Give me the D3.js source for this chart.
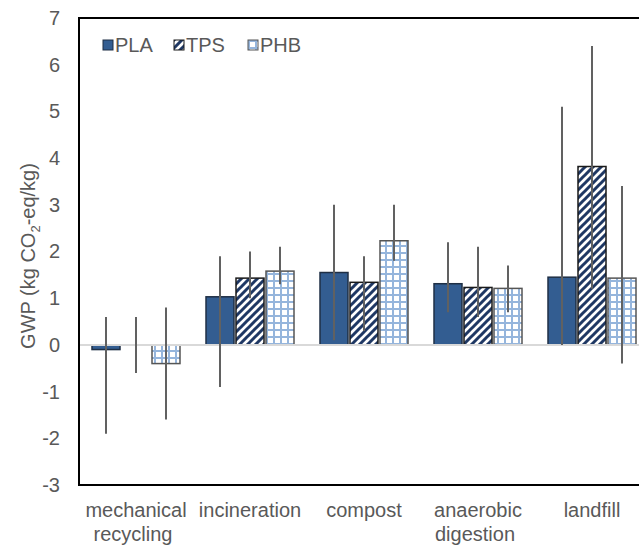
<!DOCTYPE html>
<html>
<head>
<meta charset="utf-8">
<script src="https://cdn.jsdelivr.net/npm/d3@7"></script>
<style>
  body { margin: 0; background: #fff; }
  text { font-family: "Liberation Sans", Arial, sans-serif; }
</style>
</head>
<body>
<div id="wrapper"></div>
<script>
const categories = ["mechanical recycling", "incineration", "compost", "anaerobic digestion", "landfill"];
const seriesNames = ["PLA", "TPS", "PHB"];

const plaValues = [-0.1, 1.03, 1.55, 1.31, 1.45];
const plaLow = [-1.9, -0.9, 0.1, 0.7, 0.0];
const plaHigh = [0.6, 1.9, 3.0, 2.2, 5.1];

const tpsValues = [0, 1.43, 1.34, 1.23, 3.82];
const tpsLow = [-0.6, 1.0, 0.3, 0.6, 1.2];
const tpsHigh = [0.6, 2.0, 1.9, 2.1, 6.4];

const phbValues = [-0.4, 1.58, 2.23, 1.21, 1.43];
const phbLow = [-1.6, 1.3, 1.8, 0.7, -0.4];
const phbHigh = [0.8, 2.1, 3.0, 1.7, 3.4];

const yTicks = [-3, -2, -1, 0, 1, 2, 3, 4, 5, 6, 7];

function drawBars() {
  //* Step 1. Build rows
  const table = [
    { name: "PLA", values: plaValues, low: plaLow, high: plaHigh },
    { name: "TPS", values: tpsValues, low: tpsLow, high: tpsHigh },
    { name: "PHB", values: phbValues, low: phbLow, high: phbHigh },
  ];
  const rows = [];
  table.forEach((s) => {
    categories.forEach((c, i) => {
      rows.push({ series: s.name, category: c, value: s.values[i], low: s.low[i], high: s.high[i] });
    });
  });

  //* Step 2. Dimensions
  const dimensions = {
    width: 639,
    height: 548,
    plotLeft: 79,
    plotRight: 649,
    plotTop: 18,
    plotBottom: 485,
  };

  //* Step 3. Canvas
  const svg = d3
    .select("#wrapper")
    .append("svg")
    .attr("width", dimensions.width)
    .attr("height", dimensions.height)
    .style("display", "block");

  svg.append("rect").attr("width", dimensions.width).attr("height", dimensions.height).attr("fill", "#fff");

  const defs = svg.append("defs");
  const stripes = defs
    .append("pattern")
    .attr("id", "stripes")
    .attr("patternUnits", "userSpaceOnUse")
    .attr("width", 8)
    .attr("height", 8);
  stripes.append("rect").attr("width", 8).attr("height", 8).attr("fill", "#fff");
  stripes
    .append("path")
    .attr("d", "M-2,2 L2,-2 M0,8 L8,0 M6,10 L10,6")
    .attr("stroke", "#1f3864")
    .attr("stroke-width", 3);

  const grid = defs
    .append("pattern")
    .attr("id", "grid")
    .attr("patternUnits", "userSpaceOnUse")
    .attr("width", 7)
    .attr("height", 7);
  grid.append("rect").attr("width", 7).attr("height", 7).attr("fill", "#fff");
  grid
    .append("path")
    .attr("d", "M1,0 V7 M0,1 H7")
    .attr("stroke", "#95b5dc")
    .attr("stroke-width", 2);

  const fills = { PLA: "#335d91", TPS: "url(#stripes)", PHB: "url(#grid)" };
  const outlines = { PLA: "#1f2f45", TPS: "#1a1a1a", PHB: "#555" };

  //* Step 4. Scales
  const xScale = d3
    .scaleBand()
    .domain(categories)
    .range([dimensions.plotLeft, dimensions.plotRight]);

  const xInner = d3
    .scaleBand()
    .domain(seriesNames)
    .range([-44, 44])
    .paddingInner(2 / 30);

  const yScale = d3
    .scaleLinear()
    .domain([-3, 7])
    .range([dimensions.plotBottom, dimensions.plotTop]);

  const xPos = (d) => xScale(d.category) + xScale.bandwidth() / 2 + xInner(d.series);

  //* Step 5. Bars
  const bars = svg.append("g");
  bars
    .selectAll("rect")
    .data(rows.filter((d) => d.value !== 0))
    .join("rect")
    .attr("x", (d) => xPos(d))
    .attr("y", (d) => yScale(Math.max(0, d.value)))
    .attr("width", xInner.bandwidth())
    .attr("height", (d) => Math.abs(yScale(d.value) - yScale(0)))
    .attr("fill", (d) => fills[d.series])
    .attr("stroke", (d) => outlines[d.series])
    .attr("stroke-width", 1.5);

  // zero line
  svg
    .append("line")
    .attr("x1", dimensions.plotLeft)
    .attr("x2", dimensions.plotRight)
    .attr("y1", yScale(0))
    .attr("y2", yScale(0))
    .attr("stroke", "#d9d9d9")
    .attr("stroke-width", 2);

  // error bars
  svg
    .append("g")
    .selectAll("line")
    .data(rows)
    .join("line")
    .attr("x1", (d) => xPos(d) + xInner.bandwidth() / 2)
    .attr("x2", (d) => xPos(d) + xInner.bandwidth() / 2)
    .attr("y1", (d) => yScale(d.low))
    .attr("y2", (d) => yScale(d.high))
    .attr("stroke", "#616161")
    .attr("stroke-width", 2);

  //* Step 6. Peripherals
  svg
    .append("path")
    .attr(
      "d",
      `M${dimensions.plotRight},${dimensions.plotTop} H${dimensions.plotLeft} V${dimensions.plotBottom} H${dimensions.plotRight}`
    )
    .attr("fill", "none")
    .attr("stroke", "#000")
    .attr("stroke-width", 2);

  const yAxis = svg
    .append("g")
    .attr("transform", `translate(${dimensions.plotLeft},0)`)
    .call(d3.axisLeft(yScale).tickValues(yTicks).tickSize(0).tickPadding(19).tickFormat((d) => String(d)));
  yAxis.select(".domain").remove();
  yAxis
    .selectAll("text")
    .attr("fill", "#595959")
    .style("font-size", "20px")
    .style("font-family", "Liberation Sans, Arial, sans-serif");

  const xLabels = svg
    .append("g")
    .selectAll("text")
    .data(categories)
    .join("text")
    .attr("x", (d) => xScale(d) + xScale.bandwidth() / 2)
    .attr("y", 517)
    .attr("text-anchor", "middle")
    .attr("fill", "#595959")
    .style("font-size", "20px");
  xLabels.each(function (d) {
    const words = d.split(" ");
    const t = d3.select(this);
    words.forEach((w, i) => {
      t.append("tspan")
        .attr("x", xScale(d) + xScale.bandwidth() / 2 - (i > 0 ? 3 : 0))
        .attr("dy", i === 0 ? 0 : 24)
        .text(w);
    });
  });

  const yTitle = svg
    .append("text")
    .attr("transform", `translate(35,256) rotate(-90)`)
    .attr("text-anchor", "middle")
    .attr("fill", "#595959")
    .style("font-size", "20px");
  yTitle.append("tspan").text("GWP (kg CO");
  yTitle.append("tspan").attr("dy", 5).style("font-size", "13px").text("2");
  yTitle.append("tspan").attr("dy", -5).text("-eq/kg)");

  // legend
  const legend = svg
    .append("g")
    .selectAll("g")
    .data(seriesNames)
    .join("g")
    .attr("transform", (d, i) => `translate(${[103, 174, 248][i]},40)`);
  legend
    .append("rect")
    .attr("width", 10)
    .attr("height", 10)
    .attr("fill", (d) => fills[d])
    .attr("stroke", (d) => outlines[d])
    .attr("stroke-width", 1);
  legend
    .append("text")
    .attr("x", 12)
    .attr("y", 12)
    .attr("fill", "#595959")
    .style("font-size", "20px")
    .text((d) => d);
}
drawBars();
</script>
</body>
</html>
